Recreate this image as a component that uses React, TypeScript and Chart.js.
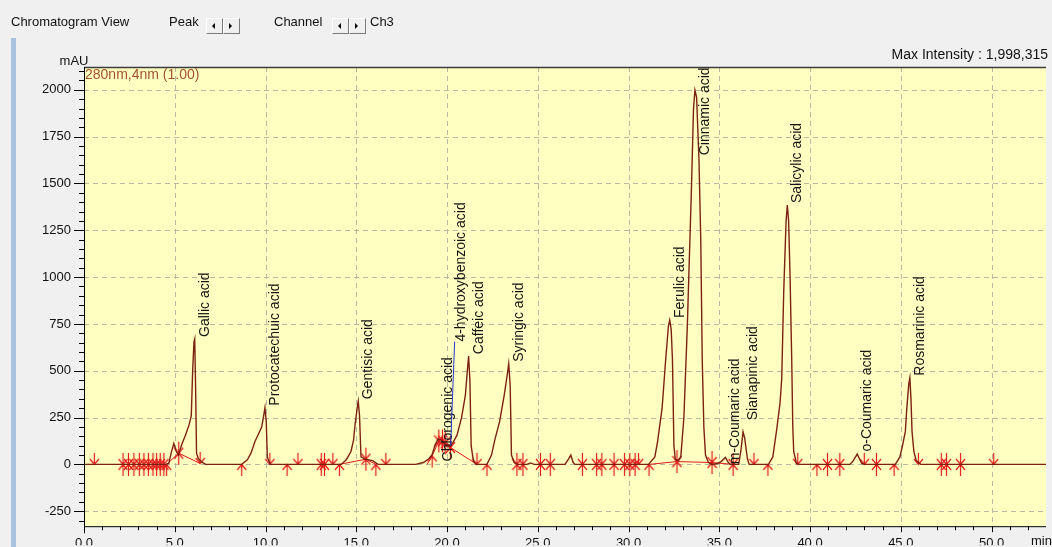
import React, { useEffect, useRef } from "react";
import { Chart, registerables } from "chart.js";

Chart.register(...registerables);

const FONT = "'Liberation Sans', Arial, Helvetica, sans-serif";

// Detector trace (time in min, signal in mAU)
const traceTime = [
  0, 4.5, 4.67, 4.8, 4.95, 5.08, 5.2, 5.4, 5.59, 5.8, 5.91, 5.99, 6.06, 6.1, 6.15, 6.2, 6.3, 6.5, 6.7,
  8.69, 9.0, 9.2, 9.42, 9.6, 9.79, 9.9, 9.97, 10.04, 10.1, 10.25,
  14.17, 14.45, 14.71, 14.85, 14.93, 15.05, 15.11, 15.18, 15.26, 15.5, 15.9, 16.2,
  18.27, 18.7, 19.0, 19.17, 19.35, 19.5, 19.7, 19.95, 20.15, 20.35, 20.55, 20.8, 21.01, 21.12, 21.19, 21.26, 21.33, 21.45, 21.6,
  22.2, 22.45, 22.65, 22.9, 23.15, 23.32, 23.4, 23.48, 23.55, 23.7, 23.85,
  24.4, 24.6, 24.8,
  26.5, 26.7, 26.82, 26.95, 27.05,
  31.1, 31.45, 31.6, 31.85, 32.05, 32.2, 32.27, 32.35, 32.42, 32.5, 32.58,
  32.75, 32.88, 33.05, 33.24, 33.46, 33.58, 33.66, 33.75, 33.88, 33.98, 34.06, 34.15, 34.24, 34.4, 34.6,
  34.9, 35.1, 35.34, 35.5, 35.6,
  36.07, 36.2, 36.31, 36.4, 36.55, 36.65,
  37.71, 37.95, 38.17, 38.35, 38.44, 38.55, 38.68, 38.75, 38.82, 38.9, 38.99, 39.05, 39.1, 39.25, 39.4,
  42.19, 42.35, 42.6, 42.72, 42.85, 43.0,
  44.7, 44.95, 45.1, 45.25, 45.33, 45.44, 45.5, 45.56, 45.62, 45.72, 45.85, 46.1,
  53,
];
const traceMAU = [
  0, 0, 5, 60, 112, 70, 50, 110, 156, 215, 260, 511, 655, 670, 400, 60, 30, 12, 0,
  0, 25, 60, 122, 160, 200, 260, 303, 230, 40, 0,
  0, 25, 69, 130, 209, 300, 337, 260, 40, 28, 20, 0,
  0, 10, 30, 50, 105, 135, 128, 100, 96, 120, 156, 250, 369, 500, 578, 450, 100, 20, 0,
  0, 50, 138, 230, 369, 480, 537, 420, 50, 10, 0,
  0, 8, 0,
  0, 30, 50, 10, 0,
  0, 40, 122, 300, 564, 740, 771, 720, 560, 100, 25,
  20, 40, 250, 741, 1452, 1900, 1998, 1960, 1628, 1200, 564, 200, 50, 10, 0,
  5, 15, 37, 10, 0,
  0, 80, 174, 140, 30, 0,
  0, 40, 191, 330, 457, 920, 1300, 1385, 1300, 1000, 564, 200, 69, 5, 0,
  0, 15, 55, 30, 5, 0,
  0, 40, 103, 175, 298, 430, 463, 350, 175, 69, 20, 0,
  0,
];

// Identified peaks
const peakNames = [
  "Gallic acid", "Protocatechuic acid", "Gentisic acid", "Chlorogenic acid", "4-hydroxybenzoic acid",
  "Caffeic acid", "Syringic acid", "Ferulic acid", "Cinnamic acid", "m-Coumaric acid",
  "Sianapinic acid", "Salicylic acid", "o-Coumaric acid", "Rosmarinic acid",
];
const peakTimes = [6.1, 9.97, 15.11, 19.5, 20.2, 21.19, 23.4, 32.27, 33.66, 35.3, 36.31, 38.75, 42.6, 45.5];
const peakHeights = [670, 303, 337, 135, 100, 578, 537, 771, 1998, 37, 174, 1385, 55, 463];
const labelLevels = [670, 303, 337, 5, 645, 578, 537, 771, 1640, -10, 225, 1385, 58, 463];

// Integration markers: d = peak end (down arrow), u = peak start (up arrow), b = both
const markerTimes = [
  0.57, 2.15, 2.45, 2.75, 3.05, 3.3, 3.55, 3.8, 4.0, 4.2, 4.4, 4.55, 5.22, 6.4, 8.69, 10.24, 11.19, 11.79,
  13.07, 13.25, 13.71, 14.07, 15.53, 16.08, 16.63, 19.18, 19.55, 19.75, 19.9, 20.19, 21.65, 22.2,
  23.85, 24.18, 25.15, 25.69, 27.46, 28.24, 28.53, 29.2, 29.78, 30.07, 30.36, 30.55, 31.13, 32.67,
  34.6, 35.76, 36.91, 37.68, 39.32, 40.38, 40.96, 41.64, 42.99, 43.66, 44.63, 45.97, 47.23, 47.52, 48.29, 50.12,
];
const markerLevels = [
  0, 0, 0, 0, 0, 0, 0, 0, 0, 0, 0, 0, 60, 5, 0, 0, 0, 0,
  0, 0, 0, 0, 28, 0, 0, 45, 125, 125, 115, 90, 0, 0,
  0, 0, 0, 0, 0, 0, 0, 0, 0, 0, 0, 0, 0, 15,
  10, 0, 0, 0, 0, 0, 0, 0, 0, 0, 0, 0, 0, 0, 0, 0,
];
const markerKinds = [
  "d", "b", "b", "b", "b", "b", "b", "b", "b", "b", "b", "u", "b", "d", "u", "d", "u", "d",
  "b", "b", "d", "u", "b", "u", "d", "u", "b", "b", "b", "b", "d", "u",
  "b", "b", "b", "b", "b", "b", "b", "b", "b", "b", "b", "d", "u", "b",
  "b", "b", "d", "u", "d", "u", "b", "b", "d", "b", "u", "d", "b", "b", "b", "d",
];

// Integration baselines (null separates segments)
const baselineTime = [4.55, 5.22, 6.4, null, 14.07, 15.53, 16.08, null, 18.9, 19.18, 19.55, 20.19, 21.65, null, 31.13, 32.67, 34.6, 35.76];
const baselineMAU = [0, 60, 5, null, 0, 28, 0, null, 0, 45, 125, 90, 0, null, 0, 15, 10, 0];

// Axis tick labels
const xTickValues = [0, 5, 10, 15, 20, 25, 30, 35, 40, 45, 50];
const yTickValues = [-250, 0, 250, 500, 750, 1000, 1250, 1500, 1750, 2000];

const X_MIN = 0;
const X_MAX = 53;
const Y_MIN = -330;
const Y_MAX = 2122;

function makeArrow(down: boolean): HTMLCanvasElement {
  const c = document.createElement("canvas");
  c.width = 11;
  c.height = 27;
  const g = c.getContext("2d")!;
  g.strokeStyle = "#e01a1a";
  g.lineWidth = 1.2;
  g.beginPath();
  if (down) {
    g.moveTo(5.5, 2);
    g.lineTo(5.5, 13.5);
    g.moveTo(1, 8);
    g.lineTo(5.5, 13.5);
    g.lineTo(10, 8);
  } else {
    g.moveTo(5.5, 13.5);
    g.lineTo(5.5, 25);
    g.moveTo(1, 19);
    g.lineTo(5.5, 13.5);
    g.lineTo(10, 19);
  }
  g.stroke();
  return c;
}

const decoPlugin = {
  id: "deco",
  beforeDatasetsDraw(chart: any) {
    const { ctx, chartArea: a, scales } = chart;
    const x = scales.x;
    const y = scales.y;
    ctx.save();
    ctx.fillStyle = "#ffffc2";
    ctx.fillRect(a.left, a.top, a.right - a.left, a.bottom - a.top);
    ctx.strokeStyle = "#b9b9a2";
    ctx.lineWidth = 1;
    ctx.setLineDash([5, 4]);
    ctx.beginPath();
    y.ticks.forEach((t: any) => {
      const py = Math.round(y.getPixelForValue(t.value)) + 0.5;
      ctx.moveTo(a.left, py);
      ctx.lineTo(a.right, py);
    });
    x.ticks.forEach((t: any) => {
      if (t.value === 0) return;
      const px = Math.round(x.getPixelForValue(t.value)) + 0.5;
      ctx.moveTo(px, a.top);
      ctx.lineTo(px, a.bottom);
    });
    ctx.stroke();
    ctx.restore();
  },
  afterDatasetsDraw(chart: any) {
    const { ctx, chartArea: a, scales } = chart;
    const x = scales.x;
    const y = scales.y;
    ctx.save();
    // peak labels
    ctx.font = `14px ${FONT}`;
    ctx.fillStyle = "#141414";
    ctx.textAlign = "left";
    ctx.textBaseline = "alphabetic";
    peakNames.forEach((name, i) => {
      const px = x.getPixelForValue(peakTimes[i]);
      const ly = y.getPixelForValue(labelLevels[i]);
      ctx.save();
      ctx.translate(px + 14, ly - 2);
      ctx.rotate(-Math.PI / 2);
      ctx.fillText(name, 0, 0);
      ctx.restore();
    });
    // leader line for the displaced label
    {
      const i = 4;
      const px = x.getPixelForValue(peakTimes[i]);
      ctx.strokeStyle = "#2a35c8";
      ctx.lineWidth = 1;
      ctx.beginPath();
      ctx.moveTo(px + 4, y.getPixelForValue(labelLevels[i]) - 2);
      ctx.lineTo(px, y.getPixelForValue(peakHeights[i]));
      ctx.stroke();
    }
    // frame: top border
    ctx.strokeStyle = "#3c3c3c";
    ctx.lineWidth = 1.5;
    ctx.beginPath();
    ctx.moveTo(a.left, a.top + 0.5);
    ctx.lineTo(a.right, a.top + 0.5);
    ctx.stroke();
    // axes
    ctx.strokeStyle = "#000";
    ctx.lineWidth = 1;
    ctx.beginPath();
    ctx.moveTo(a.left + 0.5, a.top);
    ctx.lineTo(a.left + 0.5, a.bottom + 7);
    ctx.moveTo(a.left, a.bottom + 0.5);
    ctx.lineTo(a.right, a.bottom + 0.5);
    // y ticks (major at labels, minor every 50)
    for (let v = -300; v <= 2100; v += 50) {
      const py = Math.round(y.getPixelForValue(v)) + 0.5;
      const len = v % 250 === 0 ? 10 : 5;
      ctx.moveTo(a.left - len, py);
      ctx.lineTo(a.left, py);
    }
    // x ticks (major at labels, minor every 1 min)
    for (let t = 1; t <= 52; t += 1) {
      const px = Math.round(x.getPixelForValue(t)) + 0.5;
      const len = t % 5 === 0 ? 6 : 4;
      ctx.moveTo(px, a.bottom);
      ctx.lineTo(px, a.bottom + len);
    }
    ctx.stroke();
    // texts
    ctx.font = `14px ${FONT}`;
    ctx.fillStyle = "#a4522c";
    ctx.textBaseline = "top";
    ctx.textAlign = "left";
    ctx.fillText("280nm,4nm (1.00)", a.left + 1, a.top + 1);
    ctx.fillStyle = "#111";
    ctx.font = `13px ${FONT}`;
    ctx.textAlign = "center";
    ctx.textBaseline = "alphabetic";
    ctx.fillText("mAU", a.left - 10, a.top - 2);
    ctx.textAlign = "left";
    ctx.textBaseline = "top";
    ctx.fillText("min", 1031, a.bottom + 9);
    ctx.restore();
  },
};

export default function App() {
  const ref = useRef<HTMLCanvasElement | null>(null);

  useEffect(() => {
    if (!ref.current) return;
    const down = makeArrow(true);
    const up = makeArrow(false);
    const downPts: { x: number; y: number }[] = [];
    const upPts: { x: number; y: number }[] = [];
    markerTimes.forEach((t, i) => {
      const k = markerKinds[i];
      if (k === "d" || k === "b") downPts.push({ x: t, y: markerLevels[i] });
      if (k === "u" || k === "b") upPts.push({ x: t, y: markerLevels[i] });
    });
    const chart = new Chart(ref.current, {
      type: "line",
      data: {
        datasets: [
          {
            data: traceTime.map((t, i) => ({ x: t, y: traceMAU[i] })),
            borderColor: "#7c2212",
            borderWidth: 1.4,
            pointRadius: 0,
            tension: 0,
            fill: false,
          },
          {
            data: baselineTime.map((t, i) => ({ x: t as any, y: baselineMAU[i] as any })),
            borderColor: "#e01a1a",
            borderWidth: 1,
            pointRadius: 0,
            tension: 0,
            spanGaps: false,
            fill: false,
          },
          {
            data: downPts,
            showLine: false,
            pointStyle: down as any,
            pointRadius: 5,
            pointBackgroundColor: "#e01a1a",
            pointBorderColor: "#e01a1a",
          },
          {
            data: upPts,
            showLine: false,
            pointStyle: up as any,
            pointRadius: 5,
            pointBackgroundColor: "#e01a1a",
            pointBorderColor: "#e01a1a",
          },
        ],
      },
      options: {
        responsive: false,
        animation: false,
        events: [],
        layout: { padding: { left: 0, right: 0, top: 67, bottom: 0 } },
        plugins: { legend: { display: false }, tooltip: { enabled: false } },
        scales: {
          x: {
            type: "linear",
            min: X_MIN,
            max: X_MAX,
            afterFit: (s: any) => {
              s.height = 19;
            },
            afterBuildTicks: (s: any) => {
              s.ticks = xTickValues.map((v) => ({ value: v }));
            },
            grid: { display: false, drawTicks: false },
            border: { display: false },
            ticks: {
              autoSkip: false,
              maxRotation: 0,
              padding: 9,
              color: "#111",
              font: { family: FONT, size: 13 },
              callback: (v: any) => Number(v).toFixed(1),
            },
          },
          y: {
            type: "linear",
            min: Y_MIN,
            max: Y_MAX,
            afterFit: (s: any) => {
              s.width = 84;
            },
            afterBuildTicks: (s: any) => {
              s.ticks = yTickValues.map((v) => ({ value: v }));
            },
            grid: { display: false, drawTicks: false },
            border: { display: false },
            ticks: {
              autoSkip: false,
              padding: 13,
              color: "#111",
              font: { family: FONT, size: 13 },
              callback: (v: any) => String(v),
            },
          },
        },
      },
      plugins: [decoPlugin],
    } as any);
    return () => chart.destroy();
  }, []);

  const txt: React.CSSProperties = { position: "absolute", fontSize: 13, lineHeight: "15px", color: "#111", whiteSpace: "nowrap" };
  const btn = (left: number, dir: "l" | "r") => (
    <div
      style={{
        position: "absolute",
        left,
        top: 18,
        width: 15,
        height: 14,
        background: "#f0f0f0",
        borderStyle: "solid",
        borderWidth: 1,
        borderColor: "#ffffff #7a7a7a #7a7a7a #ffffff",
      }}
    >
      <div
        style={{
          position: "absolute",
          left: 5,
          top: 4,
          width: 0,
          height: 0,
          borderTop: "3px solid transparent",
          borderBottom: "3px solid transparent",
          ...(dir === "l" ? { borderRight: "3px solid #000" } : { borderLeft: "3px solid #000" }),
        }}
      />
    </div>
  );

  return (
    <div
      style={{
        position: "fixed",
        left: 0,
        top: 0,
        width: 1052,
        height: 547,
        background: "#f0f0f0",
        overflow: "hidden",
        fontFamily: FONT,
      }}
    >
      <canvas ref={ref} width={1052} height={547} style={{ position: "absolute", left: 0, top: 0, display: "block" }} />
      <div style={{ position: "absolute", left: 11, top: 38, width: 5, height: 509, background: "#a7c3e0" }} />
      <div style={{ ...txt, left: 11, top: 14 }}>Chromatogram View</div>
      <div style={{ ...txt, left: 169, top: 14 }}>Peak</div>
      {btn(206, "l")}
      {btn(223, "r")}
      <div style={{ ...txt, left: 274, top: 14 }}>Channel</div>
      {btn(332, "l")}
      {btn(349, "r")}
      <div style={{ ...txt, left: 370, top: 14 }}>Ch3</div>
      <div style={{ ...txt, right: 4, top: 46, fontSize: 14, lineHeight: "16px" }}>Max Intensity : 1,998,315</div>
    </div>
  );
}
